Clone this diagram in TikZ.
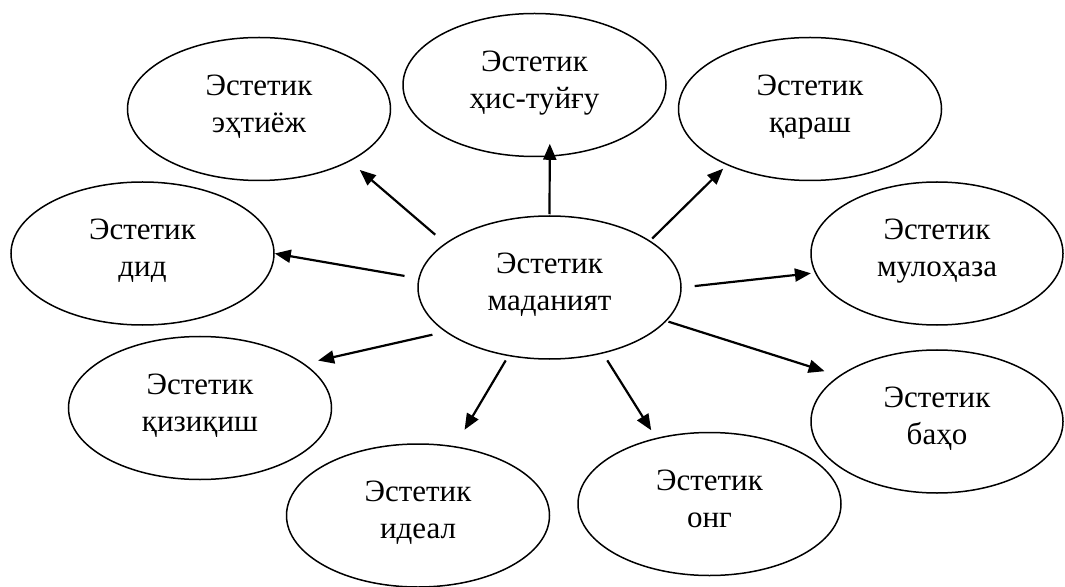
\documentclass[tikz,border=0pt]{standalone}
\usepackage{fontspec}
\setmainfont{Liberation Serif}
\usetikzlibrary{arrows.meta,shapes.geometric}

\tikzset{
	idea/.style={ellipse, draw, line width=1.5bp, minimum width=263bp, minimum height=143bp, inner sep=0pt, align=center, text depth=11bp, font=\fontsize{31bp}{37bp}\selectfont},
	link/.style={-{Triangle[length=16bp,width=13bp]}, line width=2.2bp},
}

\begin{document}
\begin{tikzpicture}[x=1bp, y=-1bp]
			%%%%% START %%%%%
			
			\useasboundingbox (0, 0) rectangle (1065, 587);
			
			\node[idea] (madaniyat) at (549.5, 287.5) {Эстетик\\маданият};
			
			\node[idea] (ehtiyoj) at (259, 109) {Эстетик\\эҳтиёж};
			\node[idea] (his) at (534.5, 85) {Эстетик\\ҳис-туйғу};
			\node[idea] (qarash) at (810, 109) {Эстетик\\қараш};
			\node[idea] (did) at (142.5, 253.5) {Эстетик\\дид};
			\node[idea, minimum width=252bp] (mulohaza) at (937, 253.5) {Эстетик\\мулоҳаза};
			\node[idea] (qiziqish) at (200, 408) {Эстетик\\қизиқиш};
			\node[idea] (ideal) at (418, 515.5) {Эстетик\\идеал};
			\node[idea] (ong) at (709.5, 504) {Эстетик\\онг};
			\node[idea, minimum width=252bp] (baho) at (937, 421.5) {Эстетик\\баҳо};
			
			\draw[link, shorten <=13bp, shorten >=13bp] (madaniyat.157) -- (ehtiyoj.-30);
			\draw[link, shorten <=1bp, shorten >=-13bp] (madaniyat.90) -- (his.-78);
			\draw[link, shorten <=3bp, shorten >=5bp] (madaniyat.25) -- (qarash.-146);
			\draw[link, shorten <=14bp] (madaniyat.176) -- (did.0);
			\draw[link, shorten <=13bp, shorten >=4bp] (madaniyat.0) -- (mulohaza.189);
			\draw[link, shorten <=13bp, shorten >=14bp] (madaniyat.-157) -- (qiziqish.23);
			\draw[link, shorten <=5bp, shorten >=19bp] (madaniyat.-121) -- (ideal.62);
			\draw[link, shorten <=8bp, shorten >=9bp] (madaniyat.-51) -- (ong.129);
			\draw[link, shorten <=2bp, shorten >=15bp] (madaniyat.-16) -- (baho.155);
			
			%%%%% END %%%%%
		\end{tikzpicture}
\end{document}
